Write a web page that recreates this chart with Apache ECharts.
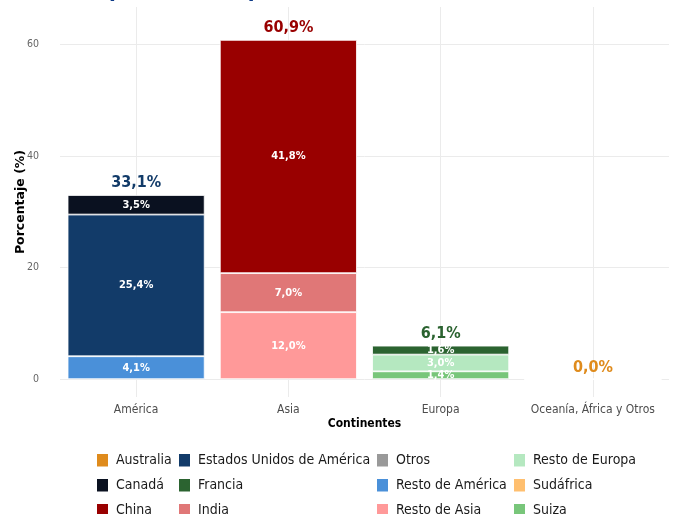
<!DOCTYPE html>
<html>
<head>
<meta charset="utf-8">
<script src="https://cdn.jsdelivr.net/npm/echarts@6/dist/echarts.min.js"></script>
<style>
  html, body { margin: 0; padding: 0; background: #fff; }
  #chart { width: 677px; height: 514px; }
</style>
</head>
<body>
<div id="chart"></div>
<script>
// datos
var continentes = ['América', 'Asia', 'Europa', 'Oceanía, África y Otros'];
var yTicks = [0, 20, 40, 60];

// un array por país, en el orden de los continentes (null = no aplica)
var australia   = [null, null, null, 0.0];
var canada      = [3.5, null, null, null];
var china       = [null, 41.8, null, null];
var eeuu        = [25.4, null, null, null];
var francia     = [null, null, 1.6, null];
var india       = [null, 7.0, null, null];
var otros       = [null, null, null, 0.0];
var restoAmerica = [4.1, null, null, null];
var restoAsia   = [null, 12.0, null, null];
var restoEuropa = [null, null, 3.0, null];
var sudafrica   = [null, null, null, 0.0];
var suiza       = [null, null, 1.4, null];

var totales = [33.1, 60.9, 6.1, 0.0];

var FONT = "'DejaVu Sans Condensed', 'DejaVu Sans', sans-serif";

function fmt(v) {
  return v.toFixed(1).replace('.', ',') + '%';
}

// orden de apilado: de abajo hacia arriba
var paises = [
  { name: 'Suiza', data: suiza, color: '#78c67a' },
  { name: 'Sudáfrica', data: sudafrica, color: '#ffbf6f' },
  { name: 'Resto de Europa', data: restoEuropa, color: '#b5e8c0' },
  { name: 'Resto de Asia', data: restoAsia, color: '#ff9999' },
  { name: 'Resto de América', data: restoAmerica, color: '#4a90d9' },
  { name: 'Otros', data: otros, color: '#999999' },
  { name: 'India', data: india, color: '#e07777' },
  { name: 'Francia', data: francia, color: '#2b6330' },
  { name: 'Estados Unidos de América', data: eeuu, color: '#123b69' },
  { name: 'China', data: china, color: '#990000' },
  { name: 'Canadá', data: canada, color: '#0a1120' },
  { name: 'Australia', data: australia, color: '#df8b1c' }
];
var colorTotal = ['#123b69', '#990000', '#2b6330', '#df8b1c'];

var series = paises.map(function (p) {
  return {
    name: p.name,
    type: 'bar',
    stack: 'total',
    barWidth: '90%',
    data: p.data,
    itemStyle: { color: p.color, borderColor: '#ffffff', borderWidth: 0.8 },
    label: {
      show: true,
      position: 'inside',
      color: '#ffffff',
      fontFamily: FONT,
      fontWeight: 'bold',
      fontSize: 11,
      formatter: function (d) { return d.value > 0 ? fmt(d.value) : ''; }
    }
  };
});

// totales sobre las barras
series.push({
  name: 'total',
  type: 'scatter',
  symbolSize: 1,
  itemStyle: { color: 'rgba(0,0,0,0)', opacity: 1 },
  z: 5,
  data: totales.map(function (v, i) {
    return { value: v, label: { color: colorTotal[i] } };
  }),
  label: {
    show: true,
    position: 'top',
    distance: 3,
    opacity: 1,
    fontFamily: FONT,
    fontWeight: 'bold',
    fontSize: 16,
    formatter: function (d) { return fmt(d.value); }
  }
});

// lineas verticales de la rejilla
series.push({
  name: 'rejilla',
  type: 'line',
  data: [],
  z: 0,
  markLine: {
    silent: true,
    symbol: 'none',
    z: 0,
    label: { show: false },
    lineStyle: { color: '#ebebeb', width: 1, type: 'solid' },
    data: continentes.map(function (c) { return { xAxis: c }; })
  }
});

var legendCols = [
  ['Australia', 'Canadá', 'China'],
  ['Estados Unidos de América', 'Francia', 'India'],
  ['Otros', 'Resto de América', 'Resto de Asia'],
  ['Resto de Europa', 'Sudáfrica', 'Suiza']
];
var legendLeft = [95, 177, 375, 512];

var legends = legendCols.map(function (col, i) {
  return {
    orient: 'vertical',
    left: legendLeft[i],
    top: 452,
    height: 120,
    padding: 0,
    itemWidth: 13,
    itemHeight: 14.5,
    itemGap: 8.5,
    icon: 'rect',
    selectedMode: false,
    data: col,
    textStyle: { fontFamily: FONT, fontSize: 14, color: '#1a1a1a', lineHeight: 14.5, padding: [0, 0, 0, 2] }
  };
});

var chart = echarts.init(document.getElementById('chart'), null, { renderer: 'canvas' });
chart.setOption({
  animation: false,
  backgroundColor: '#ffffff',
  title: {
    text: 'Importaciones por continente, 2023',
    left: 76,
    top: -25,
    textStyle: { fontFamily: FONT, fontSize: 22, fontWeight: 'bold', color: '#0d3a87' }
  },
  legend: legends,
  grid: { left: 60, right: 8, top: 7, bottom: 117, outerBoundsMode: 'none', containLabel: false },
  xAxis: {
    type: 'category',
    data: continentes,
    axisLine: { show: false },
    axisTick: { show: false },
    splitLine: { show: false },
    axisLabel: { interval: 0, margin: 7, color: '#4d4d4d', fontFamily: FONT, fontSize: 12 },
    name: 'Continentes',
    nameLocation: 'middle',
    nameGap: 21,
    nameMoveOverlap: false,
    nameTextStyle: { fontFamily: FONT, fontWeight: 'bold', fontSize: 12, color: '#000' }
  },
  yAxis: {
    type: 'value',
    min: -3.2,
    max: 66.7,
    axisLine: { show: false },
    axisTick: { show: false, customValues: yTicks },
    axisLabel: { customValues: yTicks, margin: 21, color: '#666666', fontFamily: FONT, fontSize: 10.5 },
    splitLine: { show: true, lineStyle: { color: '#ebebeb', width: 1 } },
    name: 'Porcentaje (%)',
    nameLocation: 'middle',
    nameGap: 33,
    nameMoveOverlap: false,
    nameTextStyle: { fontFamily: "'DejaVu Sans', sans-serif", fontWeight: 'bold', fontSize: 12.5, color: '#000' }
  },
  series: series
});
</script>
</body>
</html>
